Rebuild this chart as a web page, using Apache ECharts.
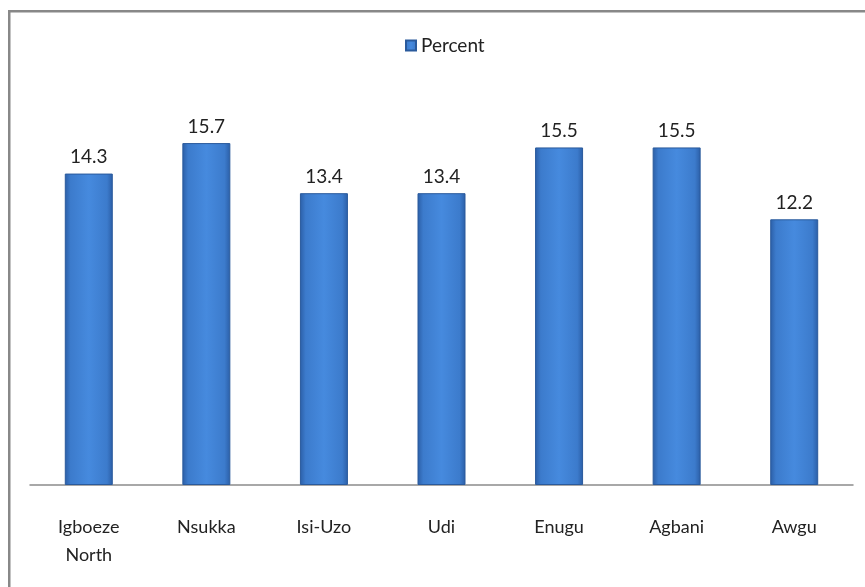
<!DOCTYPE html>
<html><head><meta charset="utf-8">
<script src="https://cdn.jsdelivr.net/npm/echarts@6/dist/echarts.min.js"></script>
<style>html,body{margin:0;padding:0;background:#fff}#c{width:865px;height:587px}</style>
</head><body><div id="c"></div>
<script>
const categories = ['Igboeze\nNorth', 'Nsukka', 'Isi-Uzo', 'Udi', 'Enugu', 'Agbani', 'Awgu'];
const percentValues = [14.3, 15.7, 13.4, 13.4, 15.5, 15.5, 12.2];
const seriesName = 'Percent';

const chart = echarts.init(document.getElementById('c'), null, {renderer: 'canvas'});
const barFill = new echarts.graphic.LinearGradient(0, 0, 1, 0, [
  {offset: 0, color: '#2b5ea6'},
  {offset: 0.12, color: '#3c7bcc'},
  {offset: 0.5, color: '#468ade'},
  {offset: 0.88, color: '#3c7bcc'},
  {offset: 1, color: '#2b5ea6'}
]);
const FONT = 'Lato, "Open Sans", sans-serif';
chart.setOption({
  animation: false,
  textStyle: {fontFamily: FONT},
  graphic: [{
    type: 'rect', left: 8, top: 10, z: -1,
    shape: {width: 900, height: 620},
    style: {fill: '#fff', stroke: '#888', lineWidth: 2.5}
  }],
  legend: {
    top: 31, left: 400,
    itemWidth: 10, itemHeight: 10, itemGap: 6,
    textStyle: {fontSize: 19, color: '#222', fontFamily: FONT},
    data: [{name: seriesName, icon: 'rect'}]
  },
  grid: {left: 30, right: 12, top: 93, bottom: 102},
  xAxis: {
    type: 'category', data: categories,
    axisLine: {lineStyle: {color: '#8c8c8c', width: 1.5}},
    axisTick: {show: false},
    axisLabel: {fontSize: 18, color: '#222', margin: 28, lineHeight: 28, fontFamily: FONT}
  },
  yAxis: {type: 'value', min: 0, max: 18, show: false, splitLine: {show: false}},
  series: [{
    name: seriesName, type: 'bar', data: percentValues,
    barWidth: 48,
    itemStyle: {color: barFill, borderColor: '#2a5a9c', borderWidth: 1},
    label: {show: true, position: 'top', distance: 7, fontSize: 19, color: '#222',
      formatter: p => p.value.toFixed(1), fontFamily: FONT}
  }]
});
</script></body></html>
